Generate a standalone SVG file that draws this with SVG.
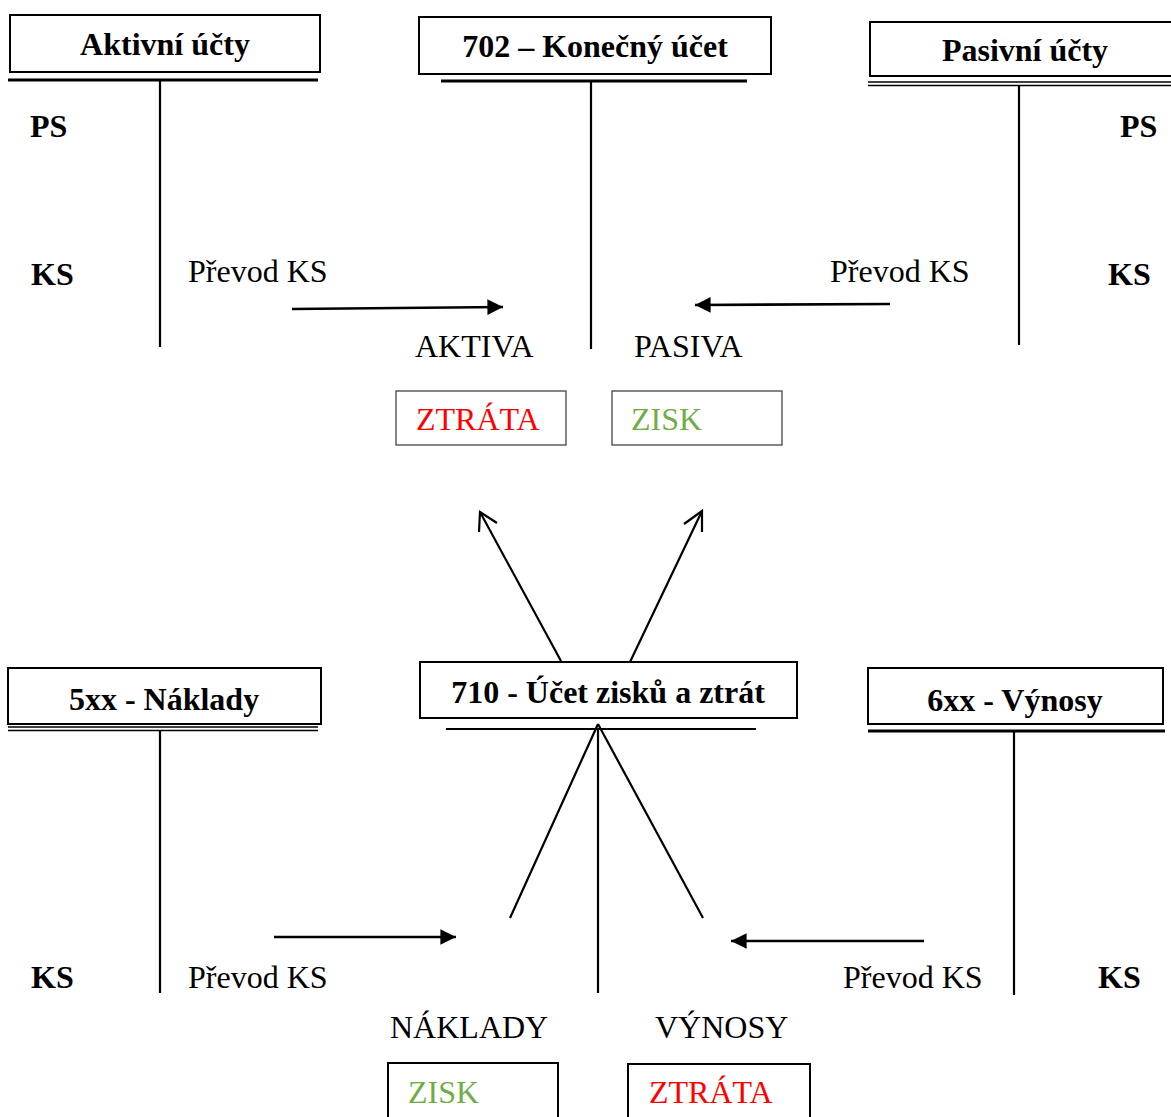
<svg xmlns="http://www.w3.org/2000/svg" width="1171" height="1117" viewBox="0 0 1171 1117">
<style>
text{font-family:"Liberation Serif","Times New Roman",serif;font-size:32px;fill:#000}
.b{font-weight:bold}
.red{fill:#FF0000}
.grn{fill:#70AD47}
.box{fill:#fff;stroke:#000;stroke-width:2}
.sbox{fill:#fff;stroke:#444;stroke-width:1.3}
.ln{stroke:#000;stroke-width:2.2;fill:none}
.arr{stroke:#000;stroke-width:2.6;fill:none}
.thick{stroke:#000;stroke-width:3;fill:none}
.thin{stroke:#000;stroke-width:1.4;fill:none}
</style>
<defs>
<marker id="fa" viewBox="0 0 10 10" refX="10" refY="5" markerWidth="6" markerHeight="6" markerUnits="strokeWidth" orient="auto">
<path d="M0,0 L10,5 L0,10 z" fill="#000"/>
</marker>
</defs>

<g id="aktivni">
<rect class="box" x="10" y="15" width="310" height="57"/>
<text class="b" x="165" y="55" text-anchor="middle">Aktivní účty</text>
<line class="thick" x1="8" y1="80" x2="318" y2="80"/>
<line class="ln" x1="160" y1="80" x2="160" y2="347"/>
<text class="b" x="30" y="137">PS</text>
<text class="b" x="31" y="285">KS</text>
<text x="188" y="282">Převod KS</text>
</g>

<g id="konecny">
<rect class="box" x="419" y="17" width="352" height="57"/>
<text class="b" x="595" y="57" text-anchor="middle">702 – Konečný účet</text>
<line class="thick" x1="441" y1="81" x2="747" y2="81"/>
<line class="ln" x1="591" y1="81" x2="591" y2="349"/>
<text x="415" y="357">AKTIVA</text>
<text x="634" y="357">PASIVA</text>
<rect class="sbox" x="396" y="391" width="170" height="54"/>
<text class="red" x="416" y="430">ZTRÁTA</text>
<rect class="sbox" x="612" y="391" width="170" height="54"/>
<text class="grn" x="631" y="430">ZISK</text>
</g>

<g id="pasivni">
<rect class="box" x="870" y="22" width="310" height="54"/>
<text class="b" x="1025" y="61" text-anchor="middle">Pasivní účty</text>
<line class="thin" x1="868" y1="82" x2="1171" y2="82"/>
<line class="thin" x1="868" y1="85.5" x2="1171" y2="85.5"/>
<line class="ln" x1="1019" y1="85" x2="1019" y2="345"/>
<text class="b" x="1120" y="137">PS</text>
<text class="b" x="1108" y="285">KS</text>
<text x="830" y="282">Převod KS</text>
</g>

<g id="naklady">
<rect class="box" x="8" y="668" width="313" height="56"/>
<text class="b" x="164" y="710" text-anchor="middle">5xx - Náklady</text>
<line class="thin" x1="8" y1="727" x2="318" y2="727"/>
<line class="thin" x1="8" y1="730.5" x2="318" y2="730.5"/>
<line class="ln" x1="160" y1="731" x2="160" y2="993"/>
<text class="b" x="31" y="988">KS</text>
<text x="188" y="988">Převod KS</text>
</g>

<g id="zisky-ztraty">
<rect class="box" x="420" y="662" width="377" height="56"/>
<text class="b" x="608" y="703" text-anchor="middle">710 - Účet zisků a ztrát</text>
<line class="ln" x1="446" y1="729" x2="756" y2="729"/>
<line class="ln" x1="598" y1="729" x2="598" y2="993"/>
<text x="390" y="1038">NÁKLADY</text>
<text x="655" y="1038">VÝNOSY</text>
<rect class="box" x="388" y="1063" width="170" height="60"/>
<text class="grn" x="408" y="1103">ZISK</text>
<rect class="box" x="628" y="1064" width="182" height="60"/>
<text class="red" x="649" y="1103">ZTRÁTA</text>
</g>

<g id="vynosy">
<rect class="box" x="868" y="668" width="295" height="56"/>
<text class="b" x="1015" y="711" text-anchor="middle">6xx - Výnosy</text>
<line class="thick" x1="868" y1="731" x2="1165" y2="731"/>
<line class="ln" x1="1014" y1="731" x2="1014" y2="995"/>
<text class="b" x="1098" y="988">KS</text>
<text x="843" y="988">Převod KS</text>
</g>

<g id="connectors">
<line class="arr" x1="292" y1="309" x2="503" y2="307" marker-end="url(#fa)"/>
<line class="arr" x1="890" y1="304" x2="695" y2="305" marker-end="url(#fa)"/>
<line class="ln" x1="561" y1="661" x2="480" y2="512"/>
<polyline class="ln" points="479,532 480,512 497,523"/>
<line class="ln" x1="630" y1="662" x2="702" y2="511"/>
<polyline class="ln" points="684,524 702,511 702,532"/>
<line class="ln" x1="598" y1="724" x2="510" y2="918"/>
<line class="ln" x1="598" y1="724" x2="703" y2="918"/>
<line class="arr" x1="274" y1="937" x2="456" y2="937" marker-end="url(#fa)"/>
<line class="arr" x1="924" y1="941" x2="731" y2="941" marker-end="url(#fa)"/>
</g>
</svg>
